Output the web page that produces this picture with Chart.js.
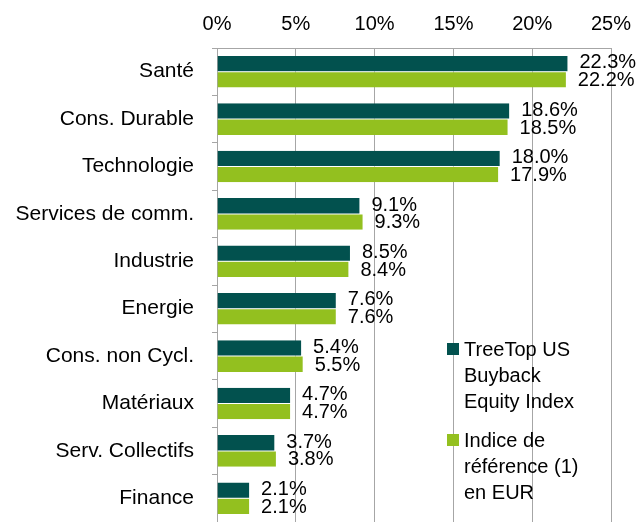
<!DOCTYPE html>
<html>
<head>
<meta charset="utf-8">
<script src="https://cdn.jsdelivr.net/npm/chart.js@4/dist/chart.umd.min.js"></script>
<style>
html,body{margin:0;padding:0;background:#fff;}
#wrap{width:638px;height:522px;position:relative;}
</style>
</head>
<body>
<div id="wrap"><canvas id="c" width="638" height="522"></canvas></div>
<script>
const categories = ["Santé","Cons. Durable","Technologie","Services de comm.","Industrie","Energie","Cons. non Cycl.","Matériaux","Serv. Collectifs","Finance"];
const fundValues = [22.3,18.6,18.0,9.1,8.5,7.6,5.4,4.7,3.7,2.1];
const benchValues = [22.2,18.5,17.9,9.3,8.4,7.6,5.5,4.7,3.8,2.1];
const seriesNames = [["TreeTop US","Buyback","Equity Index"],["Indice de","référence (1)","en EUR"]];
const xTicks = [0,5,10,15,20,25];

const DARK = "#02514E";
const LIGHT = "#93C01F";
const GRID = "#A6A6A6";
const FONT = "'Liberation Sans', Arial, sans-serif";

const labelPlugin = {
  id: "valueLabels",
  afterDatasetsDraw(chart) {
    const ctx = chart.ctx;
    ctx.save();
    ctx.font = "20px " + FONT;
    ctx.fillStyle = "#000";
    ctx.textAlign = "left";
    ctx.textBaseline = "middle";
    chart.data.datasets.forEach((ds, di) => {
      const meta = chart.getDatasetMeta(di);
      meta.data.forEach((bar, i) => {
        const v = ds.data[i];
        const dy = di === 0 ? -1 : 1;
        ctx.fillText(v.toFixed(1) + "%", bar.x + 11, bar.y + dy);
      });
    });
    ctx.restore();
  }
};

const legendPlugin = {
  id: "customLegend",
  afterDraw(chart) {
    const ctx = chart.ctx;
    ctx.save();
    ctx.font = "20px " + FONT;
    ctx.textAlign = "left";
    ctx.textBaseline = "middle";
    const colors = [DARK, LIGHT];
    const starts = [350, 441];
    seriesNames.forEach((lines, si) => {
      const y0 = starts[si];
      ctx.fillStyle = colors[si];
      ctx.fillRect(447, y0 - 7, 12, 12);
      ctx.fillStyle = "#000";
      lines.forEach((t, li) => {
        ctx.fillText(t, 464, y0 + li * 26);
      });
    });
    ctx.restore();
  }
};

new Chart(document.getElementById("c"), {
  type: "bar",
  data: {
    labels: categories,
    datasets: [
      { label: seriesNames[0].join(" "), data: fundValues, backgroundColor: DARK, borderColor: "#fff", borderWidth: {top:0,bottom:0.5,left:0,right:1}, categoryPercentage: 0.667, barPercentage: 1.0 },
      { label: seriesNames[1].join(" "), data: benchValues, backgroundColor: LIGHT, borderColor: "#fff", borderWidth: {top:0.5,bottom:0,left:0,right:1}, categoryPercentage: 0.667, barPercentage: 1.0 }
    ]
  },
  options: {
    indexAxis: "y",
    responsive: false,
    animation: false,
    layout: { padding: { top: 12, right: 27, bottom: -3, left: 0 } },
    plugins: { legend: { display: false }, tooltip: { enabled: false } },
    scales: {
      x: {
        position: "top",
        min: 0, max: 25,
        afterBuildTicks(scale) { scale.ticks = xTicks.map(v => ({ value: v })); },
        afterFit(scale) { scale.paddingLeft = 0; scale.paddingRight = 0; scale.height = 36; },
        grid: { color: GRID, lineWidth: 1, drawTicks: false },
        border: { display: true, color: GRID, width: 1 },
        ticks: { font: { family: FONT, size: 20 }, color: "#000", padding: 12, callback: v => v + "%" }
      },
      y: {
        afterFit(scale) { scale.width = 217; scale.paddingTop = 0; scale.paddingBottom = 0; },
        grid: { display: true, drawOnChartArea: false, offset: true, tickLength: 5, color: GRID },
        border: { display: true, color: GRID, width: 1 },
        ticks: { font: { family: FONT, size: 21 }, color: "#000", padding: 18 }
      }
    }
  },
  plugins: [labelPlugin, legendPlugin]
});
</script>
</body>
</html>
